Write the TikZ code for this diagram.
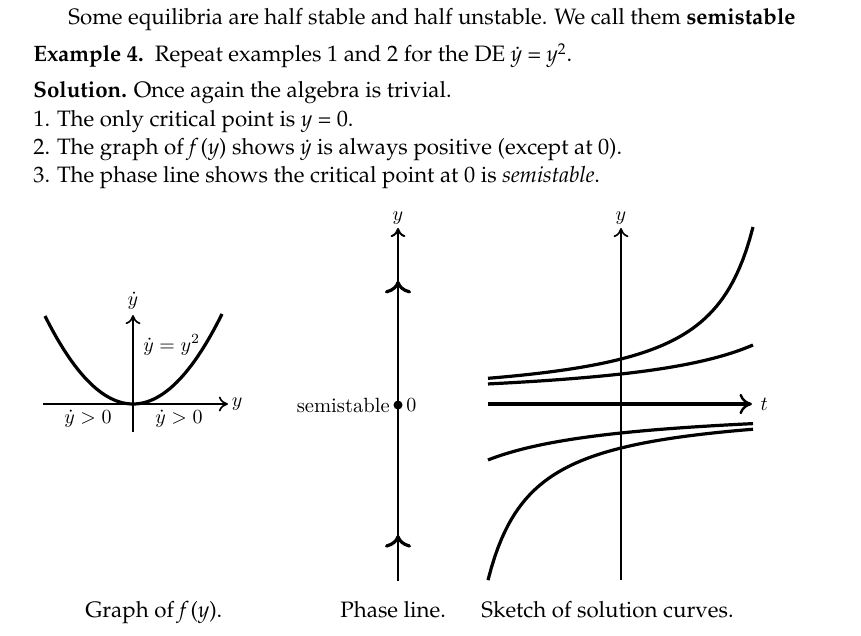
\documentclass[tikz,border=0pt]{standalone}
\usepackage[T1,TU]{fontenc}
\usepackage{tikz}
\usetikzlibrary{arrows.meta,positioning,decorations.markings}
\newcommand{\pal}{\fontencoding{T1}\fontfamily{ppl}\selectfont}
\newcommand{\iy}{\textit{y}}
\newcommand{\iydot}{\textit{\.y}}

\begin{document}
\begin{tikzpicture}[
  x=0.5pt, y=-0.5pt,
  txt/.style={anchor=base west, inner sep=0pt, font=\pal\fontsize{11.15}{13}\selectfont},
  lbl/.style={font=\fontsize{10.3}{12}\selectfont, inner sep=1.5pt},
  axis/.style={-{To[length=1.6mm, width=2.6mm]}, line width=0.8pt},
  taxis/.style={-{To[length=2.2mm, width=3.6mm, line width=1.2pt]}, line width=1.6pt},
  crv/.style={line width=1.6pt},
  chev/.style={decoration={markings,
      mark=at position 0.13 with {\arrow[line width=1.6pt]{To[length=2.2mm, width=4.6mm]}},
      mark=at position 0.85 with {\arrow[line width=1.6pt]{To[length=2.2mm, width=4.6mm]}}},
    postaction={decorate}}
]
  \useasboundingbox (0,0) rectangle (861,636);

  % text above the pictures
  \node[txt] (hdr) at (68,25) {Some equilibria are half stable and half unstable. We call them \textbf{semistable}};
  \node[txt] (ex) at (33,62) {\textbf{Example 4.}\ \ Repeat examples 1 and 2 for the DE \iydot{} = \iy\textsuperscript{2}.};
  \node[txt] (sol) at (33,98) {\textbf{Solution.} Once again the algebra is trivial.};
  \node[txt] (it1) at (33,127) {1. The only critical point is \iy{} = 0.};
  \node[txt] (it2) at (33,155) {2. The graph of \textit{f}\kern1pt(\iy) shows \iydot{} is always positive (except at 0).};
  \node[txt] (it3) at (33,183) {3. The phase line shows the critical point at 0 is \textit{semistable}.};

  % graph of f(y)
  \coordinate (fo) at (133,404);
  \coordinate (fl) at (43,404);
  \coordinate (fr) at (228,404);
  \coordinate (fb) at (133,432);
  \coordinate (ft) at (133,315);
  \draw[axis] (fl) -- (fr) node[lbl, right] (fy) {$y$};
  \draw[axis] (fb) -- (ft) node[lbl, above=1pt] (fyd) {$\dot y$};
  \draw[crv] plot[domain=-88:89, samples=60] ({133+\x}, {404-\x*\x/88});
  \node[lbl, anchor=west] (feq) at (140,345) {$\dot y = y^2$};
  \node[lbl] (fneg) at (88,419) {$\dot y > 0$};
  \node[lbl] (fpos) at (179,419) {$\dot y > 0$};

  % phase line
  \coordinate (pb) at (398,581);
  \coordinate (pt) at (398,228);
  \draw[axis, line width=1pt, chev] (pb) -- (pt) node[lbl, above] (py) {$y$};
  \node[circle, fill, inner sep=0pt, minimum size=4.5pt] (pz) at (398,405) {};
  \node[lbl, left=0pt of pz] (psemi) {semistable};
  \node[lbl, right=0pt of pz] (pzero) {$0$};

  % solution curves
  \coordinate (sb) at (621,580);
  \coordinate (st) at (621,228);
  \coordinate (sl) at (488,404);
  \coordinate (sr) at (752,404);
  \draw[axis] (sb) -- (st) node[lbl, above] (sy) {$y$};
  \draw[taxis] (sl) -- (sr) node[lbl, right=2pt] (stt) {$t$};
  \draw[crv] plot[domain=-133:132, samples=80] ({621+\x}, {404-7965/(177-\x)});
  \draw[crv] plot[domain=-133:132, samples=60] ({621+\x}, {404-8055/(268.5-\x)});
  \draw[crv] plot[domain=-133:132, samples=60] ({621+\x}, {404+8000/(276+\x)});
  \draw[crv] plot[domain=-133:132, samples=80] ({621+\x}, {404+7803/(177.3+\x)});

  % captions
  \node[txt] (capf) at (85,617) {Graph of \textit{f}\kern1pt(\iy).};
  \node[txt] (capp) at (340,617) {Phase line.};
  \node[txt] (caps) at (481,617) {Sketch of solution curves.};
\end{tikzpicture}
\end{document}
